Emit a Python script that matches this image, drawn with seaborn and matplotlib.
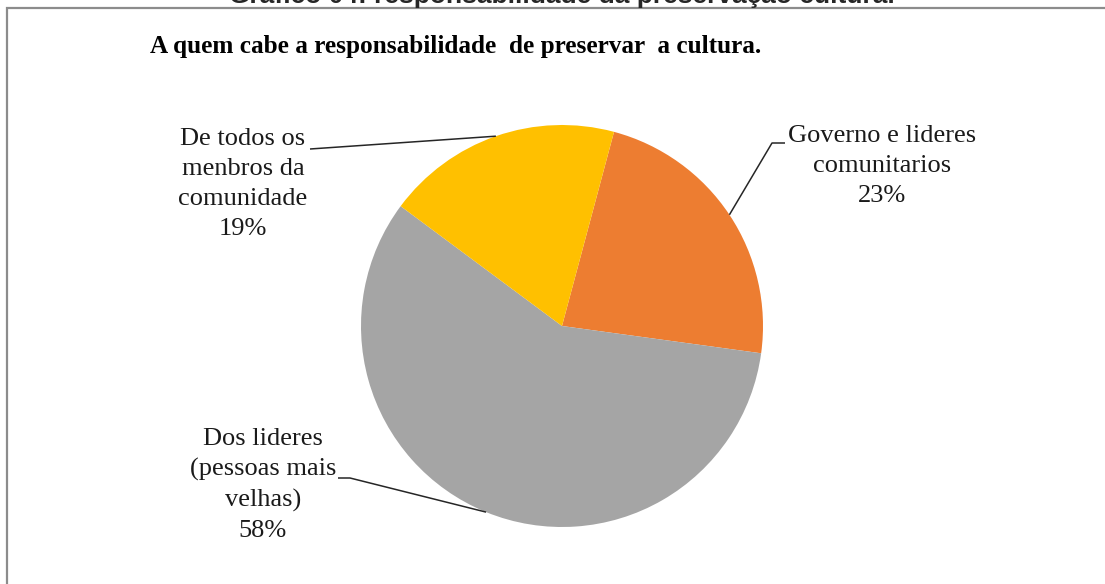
import numpy as np
import matplotlib
matplotlib.use("Agg")
import matplotlib.pyplot as plt
import seaborn as sns
from matplotlib.patches import Rectangle

sns.set_theme(style="white")
plt.rcParams['font.family'] = ['Liberation Serif', 'DejaVu Serif']

# Data
categories = ["Governo e lideres\ncomunitarios", "Dos lideres\n(pessoas mais\nvelhas)", "De todos os\nmenbros da\ncomunidade"]
values = [23, 58, 19]
colors = ["#ED7D31", "#A5A5A5", "#FFC000"]
suptitle = "Gráfico 04: responsabilidade da preservação cultural"
title = "A quem cabe a responsabilidade  de preservar  a cultura."

W, H = 1105, 584
fig = plt.figure(figsize=(W / 100, H / 100), dpi=100)
ax = fig.add_axes([0, 0, 1, 1])
cx, cy, R = 562, 326, 201

start = 90 - 15
wedges, _ = ax.pie(values, colors=colors, startangle=start, counterclock=False,
                   radius=1, center=(0, 0), frame=True,
                   wedgeprops=dict(linewidth=0))
ax.set_xlim(-cx / R, (W - cx) / R)
ax.set_ylim(-(H - cy) / R, cy / R)
ax.set_aspect("auto")
ax.axis("off")

def px(x, y):
    return ((x - cx) / R, (cy - y) / R)

# label placements (pixel centers) and elbow points
label_pos = [px(882, 166), px(263, 485), px(243, 184)]
elbows = [[px(785, 143), px(772, 143)],
          [px(338, 478), px(350, 478)],
          [px(310, 149)]]

for w, lab, v, pos, elb in zip(wedges, categories, values, label_pos, elbows):
    mid = np.deg2rad((w.theta1 + w.theta2) / 2)
    ex, ey = np.cos(mid), np.sin(mid)
    xs = [p[0] for p in elb] + [ex]
    ys = [p[1] for p in elb] + [ey]
    ax.plot(xs, ys, color="#262626", lw=1.1, solid_capstyle="butt")
    ax.text(pos[0], pos[1], f"{lab}\n{v}%", ha="center", va="center",
            fontsize=19, color="#1a1a1a", linespacing=1.47)

ax.text(*px(456, 47), title, ha="center", va="center", fontsize=18.2,
        fontweight="bold", color="black")

fig.text(562 / W, 1 - 3.5 / H, suptitle, ha="center", va="baseline",
         fontsize=19, fontweight="bold", family=["Liberation Sans", "DejaVu Sans"])

fig.add_artist(Rectangle((7 / W, -0.1), 1.2, 1 - 8 / H + 0.1, transform=fig.transFigure,
                         fill=False, edgecolor="#8c8c8c", lw=1.6))

fig.savefig("out.png", dpi=100, facecolor="white")
